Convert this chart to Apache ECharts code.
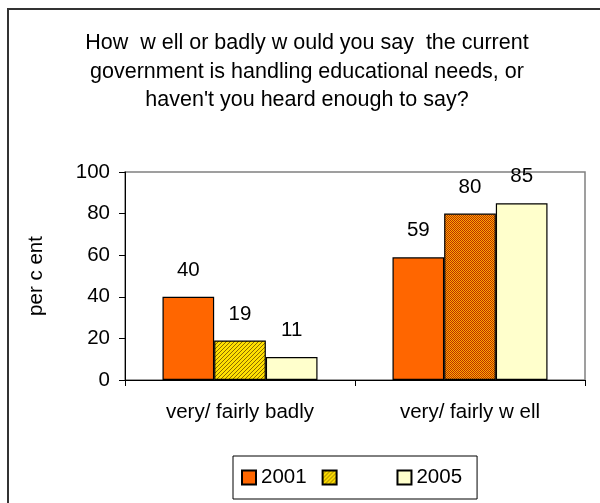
<!DOCTYPE html>
<html>
<head>
<meta charset="utf-8">
<script src="https://cdn.jsdelivr.net/npm/echarts@6/dist/echarts.min.js"></script>
<style>
  html, body { margin: 0; padding: 0; background: #fff; }
  #chart { width: 600px; height: 503px; }
</style>
</head>
<body>
<div id="chart"></div>
<script>
// Survey answers, per cent
const categories = ['very/ fairly badly', 'very/ fairly w ell'];
const seriesNames = ['2001', '\u00a0\u00a0\u00a0\u00a0\u00a0\u00a0\u00a0', '2005'];
const values2001 = [40, 59];
const valuesMid = [19, 80];
const values2005 = [11, 85];
const yTicks = [0, 20, 40, 60, 80, 100];

const FONT = '"Liberation Sans", Arial, sans-serif';
const FS = 20.5;

// Small repeating hatch tiles for the middle series
function hatchTile(bg, fg, kind) {
  const c = document.createElement('canvas');
  c.width = 4; c.height = 4;
  const g = c.getContext('2d');
  g.fillStyle = bg; g.fillRect(0, 0, 4, 4);
  g.fillStyle = fg;
  if (kind === 'diag') {
    // thin "///" lines
    g.fillRect(3, 0, 1, 1); g.fillRect(2, 1, 1, 1);
    g.fillRect(1, 2, 1, 1); g.fillRect(0, 3, 1, 1);
  } else {
    // denser zig-zag weave
    g.fillRect(0, 0, 1, 1); g.fillRect(1, 1, 1, 1);
    g.fillRect(2, 0, 1, 1); g.fillRect(3, 1, 1, 1);
    g.fillRect(0, 2, 1, 1); g.fillRect(2, 2, 1, 1);
    g.fillRect(1, 3, 1, 1); g.fillRect(3, 3, 1, 1);
  }
  return c;
}
const yellowHatch = { image: hatchTile('#FFE000', '#8A6A00', 'diag'), repeat: 'repeat' };
const orangeHatch = { image: hatchTile('#FFA800', '#B83000', 'weave'), repeat: 'repeat' };

const barBorder = { borderColor: '#000', borderWidth: 1.2 };
const labelStyle = {
  show: true, position: 'top', distance: 16,
  fontFamily: FONT, fontSize: FS, color: '#000'
};

const chart = echarts.init(document.getElementById('chart'), null, { renderer: 'canvas' });
chart.setOption({
  animation: false,
  backgroundColor: '#fff',
  title: {
    text: 'How  w ell or badly w ould you say  the current\ngovernment is handling educational needs, or\nhaven\'t you heard enough to say?',
    left: 302, top: 24, textAlign: 'center',
    textStyle: { fontFamily: FONT, fontSize: 21.5, fontWeight: 'normal', color: '#000', lineHeight: 28.5 }
  },
  graphic: [{
    type: 'rect', z: 100, silent: true,
    shape: { x: 8, y: 9, width: 700, height: 600 },
    style: { fill: 'none', stroke: '#333', lineWidth: 2 }
  }],
  legend: {
    left: 233, top: 456,
    padding: [11, 15, 11, 8],
    itemGap: 15, itemWidth: 14, itemHeight: 14,
    icon: 'rect',
    borderColor: '#000', borderWidth: 1, backgroundColor: '#fff',
    textStyle: { fontFamily: FONT, fontSize: FS, color: '#000' },
    data: seriesNames
  },
  grid: {
    left: 125, top: 172, right: 15, bottom: 123,
    show: true, borderColor: '#808080', borderWidth: 1.5, backgroundColor: '#fff'
  },
  xAxis: {
    type: 'category', data: categories,
    axisLine: { lineStyle: { color: '#000', width: 1 } },
    axisTick: { show: true, length: 6, lineStyle: { color: '#000' } },
    axisLabel: { margin: 22, fontFamily: FONT, fontSize: FS, color: '#000' }
  },
  yAxis: {
    type: 'value', min: yTicks[0], max: yTicks[yTicks.length - 1], interval: 20,
    name: 'per c ent', nameLocation: 'middle', nameRotate: 90, nameGap: 78,
    nameTextStyle: { fontFamily: FONT, fontSize: FS, color: '#000' },
    axisLine: { show: true, lineStyle: { color: '#000', width: 1 } },
    axisTick: { show: true, length: 6, lineStyle: { color: '#000' } },
    splitLine: { show: false },
    axisLabel: { margin: 15, fontFamily: FONT, fontSize: FS, color: '#000' }
  },
  series: [
    {
      name: seriesNames[0], type: 'bar', data: values2001,
      barGap: '0%', barCategoryGap: '32.6%',
      itemStyle: Object.assign({ color: '#FF6600' }, barBorder),
      label: labelStyle
    },
    {
      name: seriesNames[1], type: 'bar',
      data: [
        { value: valuesMid[0] },
        { value: valuesMid[1], itemStyle: { color: orangeHatch } }
      ],
      barGap: '0%', barCategoryGap: '32.6%',
      itemStyle: Object.assign({ color: yellowHatch }, barBorder),
      label: labelStyle
    },
    {
      name: seriesNames[2], type: 'bar', data: values2005,
      barGap: '0%', barCategoryGap: '32.6%',
      itemStyle: Object.assign({ color: '#FFFFCC' }, barBorder),
      label: labelStyle
    }
  ]
});
</script>
</body>
</html>
